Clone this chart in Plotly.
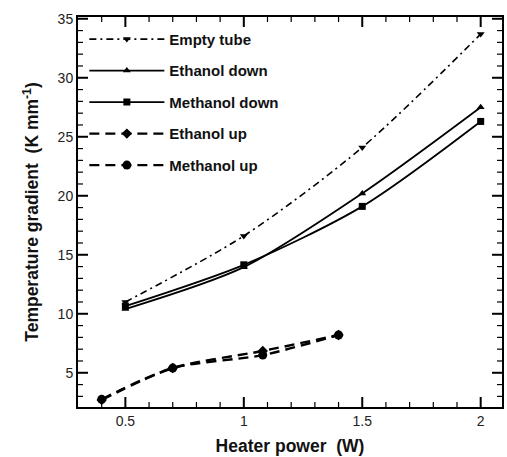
import numpy as np
import plotly.graph_objects as go

# Data
empty_x = [0.5, 1.0, 1.5, 2.0]
empty_y = [11.0, 16.6, 24.1, 33.7]
eth_down_x = [0.5, 1.0, 1.5, 2.0]
eth_down_y = [10.4, 13.95, 20.2, 27.5]
meth_down_x = [0.5, 1.0, 1.5, 2.0]
meth_down_y = [10.65, 14.15, 19.1, 26.3]
eth_up_x = [0.4, 0.7, 1.08, 1.4]
eth_up_y = [2.7, 5.4, 6.85, 8.2]
meth_up_x = [0.4, 0.7, 1.08, 1.4]
meth_up_y = [2.75, 5.4, 6.5, 8.2]

x_range = [0.3, 2.09]
y_range = [2.1, 35.15]
x_major = [0.5, 1.0, 1.5, 2.0]
y_major = [5, 10, 15, 20, 25, 30, 35]
x_minor = [v for v in np.round(np.arange(0.4, 2.05, 0.1), 2) if v not in x_major]
y_minor = [v for v in range(3, 36) if v not in y_major]

series = [
    ("Empty tube", empty_x, empty_y, "triangle-down", "7px,4px,2px,4px", 7, 1.6),
    ("Ethanol down", eth_down_x, eth_down_y, "triangle-up", "solid", 7, 1.8),
    ("Methanol down", meth_down_x, meth_down_y, "square", "solid", 7, 1.8),
    ("Ethanol up", eth_up_x, eth_up_y, "diamond", "10px,6px", 8, 2.4),
    ("Methanol up", meth_up_x, meth_up_y, "circle", "10px,6px", 9, 2.4),
]

fig = go.Figure()
for name, x, y, sym, dash, ms, lw in series:
    fig.add_trace(go.Scatter(
        x=x, y=y, name="<b>" + name + "</b>", mode="lines+markers",
        line=dict(color="black", width=lw, dash=dash, shape="spline", smoothing=0.8),
        marker=dict(symbol=sym, size=ms, color="black"),
        legendgroup=name,
    ))

tickfont = dict(family="Arial, Liberation Sans", size=14, color="#222")
titlefont = dict(family="Arial, Liberation Sans", size=17.5, color="#111")

fig.update_xaxes(
    range=x_range, tickvals=x_major, ticktext=["0.5", "1", "1.5", "2"],
    showgrid=False, zeroline=False, showline=True, linecolor="black", linewidth=2,
    mirror=True, ticks="", tickfont=tickfont,
    title=dict(text="<b>Heater power  (W)</b>", font=titlefont, standoff=12),
)
fig.update_yaxes(
    range=y_range, tickvals=y_major,
    showgrid=False, zeroline=False, showline=True, linecolor="black", linewidth=2,
    mirror=True, ticks="", tickfont=tickfont,
    title=dict(text="<b>Temperature gradient  (K mm<sup>-1</sup>)</b>", font=titlefont, standoff=14),
)

# inside tick marks on all four sides, placed at the tick values
shapes = []
for vals, ln, w in [(x_major, 10, 2), (x_minor, 5, 1.2)]:
    for v in vals:
        for anchor, sgn in [(0, 1), (1, -1)]:
            shapes.append(dict(type="line", xref="x", yref="paper", ysizemode="pixel",
                               yanchor=anchor, x0=v, x1=v, y0=0, y1=sgn * ln,
                               line=dict(color="black", width=w)))
for vals, ln, w in [(y_major, 10, 2), (y_minor, 5, 1.2)]:
    for v in vals:
        for anchor, sgn in [(0, 1), (1, -1)]:
            shapes.append(dict(type="line", yref="y", xref="paper", xsizemode="pixel",
                               xanchor=anchor, y0=v, y1=v, x0=0, x1=sgn * ln,
                               line=dict(color="black", width=w)))

fig.update_layout(
    width=507, height=457,
    margin=dict(l=78, r=3, t=17, b=50),
    plot_bgcolor="white", paper_bgcolor="white",
    shapes=shapes,
    showlegend=True,
    legend=dict(x=0.015, y=0.985, xanchor="left", yanchor="top",
                font=dict(family="Arial, Liberation Sans", size=15, color="#111"),
                bgcolor="rgba(0,0,0,0)", tracegroupgap=9, itemwidth=75),
)

fig.write_html("out.html")
